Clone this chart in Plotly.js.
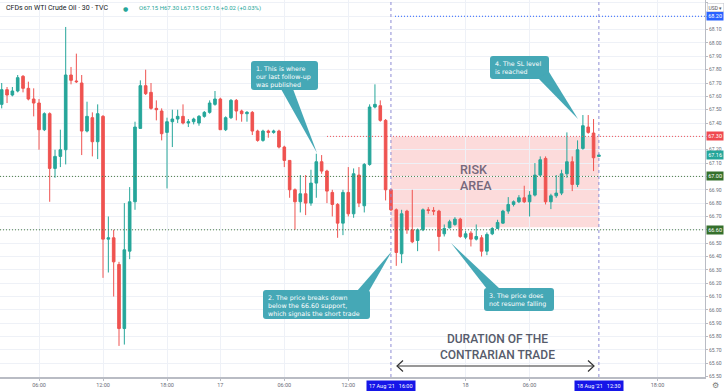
<!DOCTYPE html>
<html>
<head>
<meta charset="utf-8">
<script src="https://cdn.plot.ly/plotly-3.0.1.min.js"></script>
<style>
html,body{margin:0;padding:0;background:#fff;}
#chart{width:728px;height:391px;}
</style>
</head>
<body>
<div id="chart"></div>
<script>
// ---- 30-minute candles, 16 Aug 02:30 -> 18 Aug 12:30 ----
const openP = [67.54,67.65,67.61,67.64,67.75,67.66,67.58,67.55,67.35,67.47,
67.06,67.15,67.20,67.76,67.715,67.70,67.34,67.44,67.26,67.45,
66.53,66.54,66.34,65.86,66.44,66.81,67.36,67.68,67.63,67.51,
67.49,67.33,67.41,67.43,67.45,67.40,67.41,67.40,67.45,67.48,
67.54,67.58,67.35,67.44,67.57,67.49,67.47,67.48,67.34,67.27,
67.34,67.33,67.34,67.22,67.12,66.90,66.81,66.87,66.80,66.95,
67.11,67.04,66.88,66.79,66.65,66.88,66.72,67.01,66.78,67.09,
67.52,67.53,67.42,66.90,66.75,66.42,66.74,66.60,66.52,66.60,
66.75,66.745,66.74,66.57,66.615,66.64,66.68,66.545,66.575,66.53,
66.54,66.44,66.57,66.61,66.65,66.74,66.79,66.81,66.84,66.81,
66.86,67.01,67.135,66.81,66.855,66.875,67.02,67.11,66.94,67.21,
67.37,67.325,67.15];
const highP = [67.70,67.67,67.67,67.76,67.76,67.71,67.66,67.58,67.48,67.48,
67.20,67.35,68.12,67.82,67.92,67.76,67.56,67.48,67.54,67.46,
66.70,66.60,66.36,66.80,66.92,67.41,67.72,67.80,67.70,67.57,
67.51,67.44,67.50,67.50,67.54,67.43,67.44,67.46,67.49,67.57,
67.64,67.59,67.45,67.58,67.58,67.50,67.49,67.49,67.35,67.35,
67.35,67.35,67.35,67.23,67.12,66.91,67.01,67.01,67.05,67.17,
67.16,67.05,66.90,66.80,66.90,67.07,67.06,67.07,67.10,67.54,
67.69,67.57,67.43,66.90,66.76,66.75,66.75,66.90,66.61,66.76,
66.77,66.77,66.75,66.64,66.675,66.695,66.69,66.59,66.59,66.64,
66.56,66.58,66.62,66.675,66.75,66.845,66.82,66.86,66.93,66.89,
67.10,67.15,67.15,66.87,67.01,67.05,67.33,67.15,67.27,67.46,
67.46,67.43,67.17];
const lowP = [67.51,67.55,67.60,67.63,67.63,67.57,67.45,67.20,67.34,66.81,
66.99,67.07,67.09,67.69,67.70,67.16,67.33,67.15,67.13,66.24,
66.28,66.10,65.73,65.74,66.38,66.75,67.36,67.61,67.50,67.42,
67.27,66.91,67.22,67.40,67.39,67.37,67.39,67.38,67.44,67.47,
67.53,67.35,67.34,67.43,67.42,67.41,67.41,67.31,67.26,67.26,
67.29,67.32,67.21,67.07,66.84,66.60,66.73,66.71,66.78,66.84,
67.02,66.80,66.70,66.54,66.56,66.70,66.69,66.77,66.73,67.08,
67.51,67.41,66.82,66.74,66.33,66.35,66.57,66.50,66.44,66.59,
66.72,66.71,66.44,66.55,66.61,66.63,66.54,66.53,66.475,66.52,
66.40,66.41,66.56,66.61,66.645,66.72,66.775,66.80,66.80,66.70,
66.85,67.00,66.79,66.755,66.84,66.86,66.99,66.89,66.92,67.20,
67.32,67.04,67.15];
const closeP = [67.65,67.61,67.64,67.74,67.66,67.58,67.55,67.35,67.47,67.06,
67.15,67.20,67.76,67.72,67.71,67.34,67.45,67.26,67.47,66.53,
66.54,66.36,65.86,66.45,66.81,67.37,67.68,67.62,67.51,67.50,
67.32,67.41,67.43,67.45,67.40,67.41,67.43,67.45,67.48,67.55,
67.58,67.35,67.44,67.57,67.49,67.47,67.48,67.34,67.27,67.34,
67.33,67.34,67.22,67.12,66.90,66.81,66.87,66.80,66.95,67.11,
67.04,66.89,66.79,66.65,66.88,66.72,67.02,66.80,67.09,67.52,
67.54,67.42,66.90,66.75,66.43,66.72,66.60,66.51,66.60,66.75,
66.745,66.74,66.55,66.61,66.66,66.68,66.55,66.57,66.53,66.55,
66.44,66.565,66.61,66.655,66.74,66.79,66.81,66.84,66.81,66.86,
67.01,67.125,66.81,66.855,66.875,67.02,67.11,66.94,67.20,67.38,
67.33,67.14,67.16];

// x-axis labels (candle slot index -> label)
const tickIdx  = [7, 19, 31, 41, 53, 65, 87, 99, 123];
const tickText = ['06:00','12:00','18:00','17','06:00','12:00','18','06:00','18:00'];

// trade window (candle slots) and price levels
const entryIdx = 73, exitIdx = 112;
const entryLabel = "17 Aug '21   16:00", exitLabel = "18 Aug '21   12:30";
const levelTarget = 68.20, levelSL = 67.30, levelMid = 67.00, levelSupport = 66.60, lastPrice = 67.16;
const riskLow = 66.62;

const xIdx = openP.map((_, i) => i);

// ---- geometry helpers (pixel -> paper) ----
const PW = 705, PH = 377;
const px = x => x / PW;
const py = y => 1 - y / PH;

const GREEN = '#26a69a', RED = '#ef5350', CALL = '#45a8b6';

const trace = {
  type: 'candlestick',
  x: xIdx, open: openP, high: highP, low: lowP, close: closeP,
  increasing: {line: {color: GREEN, width: 1}, fillcolor: GREEN},
  decreasing: {line: {color: RED, width: 1}, fillcolor: RED},
  whiskerwidth: 0,
  hoverinfo: 'skip',
  showlegend: false
};

function callout(x0, y0, x1, y1, tail) {
  const r = 3;
  const box = `M ${px(x0 + r)} ${py(y0)} L ${px(x1 - r)} ${py(y0)} Q ${px(x1)} ${py(y0)} ${px(x1)} ${py(y0 + r)} ` +
    `L ${px(x1)} ${py(y1 - r)} Q ${px(x1)} ${py(y1)} ${px(x1 - r)} ${py(y1)} L ${px(x0 + r)} ${py(y1)} ` +
    `Q ${px(x0)} ${py(y1)} ${px(x0)} ${py(y1 - r)} L ${px(x0)} ${py(y0 + r)} Q ${px(x0)} ${py(y0)} ${px(x0 + r)} ${py(y0)} Z`;
  const t = `M ${px(tail[0][0])} ${py(tail[0][1])} L ${px(tail[1][0])} ${py(tail[1][1])} L ${px(tail[2][0])} ${py(tail[2][1])} Z`;
  return [
    {type: 'path', xref: 'paper', yref: 'paper', path: box, fillcolor: CALL, line: {width: 0}, layer: 'above'},
    {type: 'path', xref: 'paper', yref: 'paper', path: t, fillcolor: CALL, line: {width: 0}, layer: 'above'}
  ];
}

const DOT = '1px,2px';
const shapes = [
  // risk area
  {type: 'rect', xref: 'x', yref: 'y', x0: entryIdx, x1: exitIdx, y0: riskLow, y1: levelSL,
   fillcolor: 'rgba(249,170,170,0.42)', line: {width: 0}, layer: 'below'},
  // level lines
  {type: 'line', xref: 'paper', yref: 'y', x0: px(395), x1: 1, y0: levelTarget, y1: levelTarget,
   line: {color: '#2962ff', width: 1, dash: DOT}},
  {type: 'line', xref: 'paper', yref: 'y', x0: px(327), x1: 1, y0: levelSL, y1: levelSL,
   line: {color: '#f0565a', width: 1, dash: DOT}},
  {type: 'line', xref: 'paper', yref: 'y', x0: 0, x1: 1, y0: levelMid, y1: levelMid,
   line: {color: '#4f7f46', width: 1, dash: DOT}},
  {type: 'line', xref: 'paper', yref: 'y', x0: 0, x1: 1, y0: levelSupport, y1: levelSupport,
   line: {color: '#4f7f46', width: 1, dash: DOT}},
  // vertical trade window lines
  {type: 'line', xref: 'x', yref: 'paper', x0: entryIdx, x1: entryIdx, y0: 0, y1: 1,
   line: {color: '#8e8cd4', width: 1, dash: '3px,3px'}},
  {type: 'line', xref: 'x', yref: 'paper', x0: exitIdx, x1: exitIdx, y0: 0, y1: 1,
   line: {color: '#8e8cd4', width: 1, dash: '3px,3px'}},
  // duration arrow
  {type: 'line', xref: 'paper', yref: 'paper', x0: px(397), x1: px(594), y0: py(366), y1: py(366),
   line: {color: '#333', width: 1.2}},
  {type: 'path', xref: 'paper', yref: 'paper',
   path: `M ${px(403)} ${py(360.5)} L ${px(397)} ${py(366)} L ${px(403)} ${py(371.5)}`,
   line: {color: '#333', width: 1.2}},
  {type: 'path', xref: 'paper', yref: 'paper',
   path: `M ${px(588)} ${py(360.5)} L ${px(594)} ${py(366)} L ${px(588)} ${py(371.5)}`,
   line: {color: '#333', width: 1.2}},
  ...callout(251, 61, 318, 90, [[281, 89], [293, 89], [317, 153]]),
  ...callout(263, 290, 370, 319, [[357, 291], [369, 291], [392, 251]]),
  ...callout(484, 288, 554, 311, [[487, 289], [500, 289], [451, 243]]),
  ...callout(490, 56, 549, 79, [[538, 78], [549, 72], [578, 119]])
];

const calloutFont = {family: 'DejaVu Sans', size: 6.3, color: '#ffffff'};
function ctext(x, y, t) {
  return {xref: 'paper', yref: 'paper', x: px(x), y: py(y), xanchor: 'left', yanchor: 'top',
          align: 'left', showarrow: false, text: t, font: calloutFont};
}
function axLabel(y, t, bg) {
  return {xref: 'paper', yref: 'y', x: px(706), y: y, xanchor: 'left', yanchor: 'middle',
          showarrow: false, text: t, bgcolor: bg, borderpad: 1.2,
          font: {family: 'Roboto', size: 5.5, color: '#ffffff'}};
}
function dateLabel(idx, t) {
  return {xref: 'x', yref: 'paper', x: idx, y: py(386), xanchor: 'center', yanchor: 'middle',
          showarrow: false, text: t, bgcolor: '#1616e8', borderpad: 2,
          font: {family: 'Roboto', size: 5.5, color: '#ffffff'}};
}

const annotations = [
  {xref: 'paper', yref: 'paper', x: px(4), y: py(8), xanchor: 'left', yanchor: 'middle', showarrow: false,
   text: 'CFDs on WTI Crude Oil · 30 · TVC', font: {family: 'Roboto', size: 7, color: '#131722'}},
  {xref: 'paper', yref: 'paper', x: px(125), y: py(8), xanchor: 'center', yanchor: 'middle', showarrow: false,
   text: '●', font: {family: 'DejaVu Sans', size: 6, color: GREEN}},
  {xref: 'paper', yref: 'paper', x: px(137), y: py(8), xanchor: 'left', yanchor: 'middle', showarrow: false,
   text: 'O67.15 H67.30 L67.15 C67.16 +0.02 (+0.03%)', font: {family: 'Roboto', size: 6, color: GREEN}},
  ctext(254, 63, '1. This is where<br>our last follow-up<br>was published'),
  ctext(266, 292, '2. The price breaks down<br>below the 66.60 support,<br>which signals the short trade'),
  ctext(487, 290, '3. The price does<br>not resume falling'),
  ctext(493, 58, '4. The SL level<br>is reached'),
  {xref: 'paper', yref: 'paper', x: px(458), y: py(177.5), xanchor: 'left', yanchor: 'middle', showarrow: false,
   align: 'left', text: 'RISK<br>AREA', font: {family: 'Roboto', size: 12.5, weight: 500, color: '#76687c'}},
  {xref: 'paper', yref: 'paper', x: px(497), y: py(347), xanchor: 'center', yanchor: 'middle', showarrow: false,
   align: 'center', text: 'DURATION OF THE<br>CONTRARIAN TRADE',
   font: {family: 'Roboto', size: 12, weight: 500, color: '#565b6b'}},
  axLabel(levelTarget, levelTarget.toFixed(2), '#2962ff'),
  axLabel(levelSL, levelSL.toFixed(2), '#ef4a50'),
  axLabel(lastPrice, lastPrice.toFixed(2), GREEN),
  axLabel(levelMid, levelMid.toFixed(2), '#35702c'),
  axLabel(levelSupport, levelSupport.toFixed(2), '#35702c'),
  dateLabel(entryIdx, entryLabel),
  dateLabel(exitIdx, exitLabel),
  {xref: 'paper', yref: 'paper', x: px(716), y: py(7), xanchor: 'center', yanchor: 'middle', showarrow: false,
   text: 'USD ▾', bgcolor: '#ffffff', bordercolor: '#c8cad0', borderwidth: 0.6, borderpad: 1,
   font: {family: 'Roboto', size: 5, color: '#555'}},
  {xref: 'paper', yref: 'paper', x: px(716), y: py(385), xanchor: 'center', yanchor: 'middle', showarrow: false,
   text: '⚙', font: {family: 'DejaVu Sans', size: 8, color: '#777'}}
];

const layout = {
  width: 728, height: 391,
  margin: {l: 0, r: 23, t: 0, b: 14, pad: 0},
  paper_bgcolor: '#ffffff', plot_bgcolor: '#ffffff',
  showlegend: false,
  xaxis: {
    type: 'linear', range: [-0.32, 131.9], fixedrange: true,
    rangeslider: {visible: false},
    tickmode: 'array', tickvals: tickIdx, ticktext: tickText,
    showgrid: true, gridcolor: '#eef1f7', gridwidth: 1,
    zeroline: false, showline: true, linecolor: '#b9bcc4', linewidth: 1.5,
    ticks: 'outside', ticklen: 2, tickcolor: '#b9bcc4',
    tickfont: {family: 'Roboto', size: 5.5, color: '#6a6d78'}
  },
  yaxis: {
    side: 'right', range: [65.497, 68.322], fixedrange: true,
    tickmode: 'linear', tick0: 65.5, dtick: 0.1, tickformat: '.2f',
    showgrid: true, gridcolor: '#eef1f7', gridwidth: 1,
    zeroline: false, showline: true, linecolor: '#b9bcc4', linewidth: 1,
    ticks: 'outside', ticklen: 2, tickcolor: '#b9bcc4',
    tickfont: {family: 'Roboto', size: 5, color: '#6a6d78'}
  },
  shapes: shapes,
  annotations: annotations
};

Plotly.newPlot('chart', [trace], layout, {displayModeBar: false, staticPlot: true});
</script>
</body>
</html>
